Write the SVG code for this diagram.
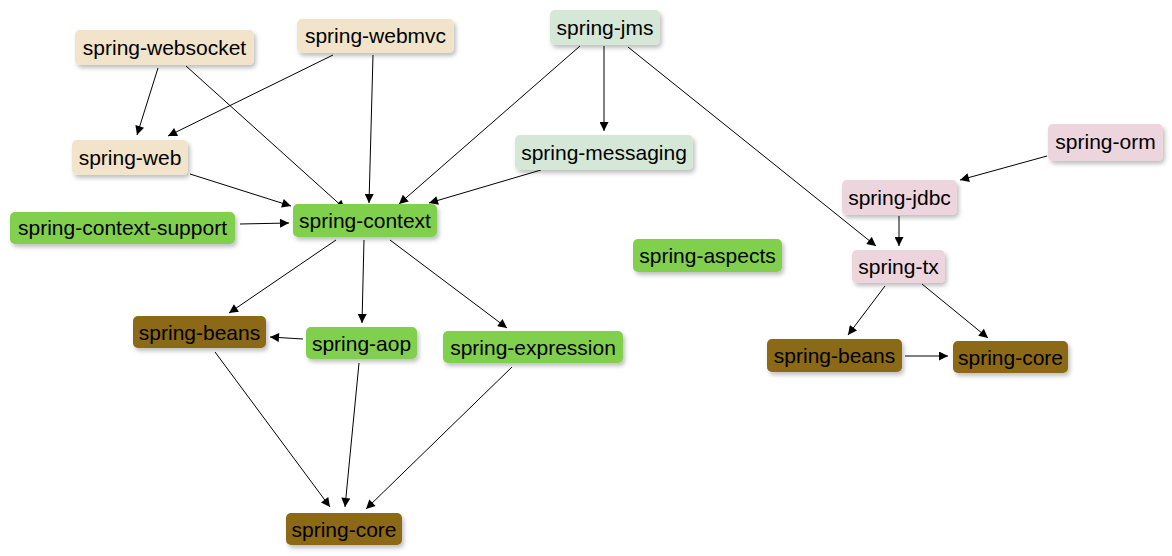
<svg xmlns="http://www.w3.org/2000/svg" width="1172" height="556" viewBox="0 0 1172 556">
<style>
text{font-family:"Liberation Sans",Arial,sans-serif;font-size:21px;fill:#000;text-anchor:middle}
.n rect{filter:url(#sh)}
.beige{fill:#F2E4CB}
.mint{fill:#D5E7D7}
.green{fill:#80D04E}
.brown{fill:#8B6914}
.pink{fill:#EDD5DE}
#edges line{stroke:#000;stroke-width:1;marker-end:url(#ah)}
</style>
<defs>
<filter id="sh" x="-20%" y="-30%" width="140%" height="170%">
<feDropShadow dx="2" dy="3" stdDeviation="2" flood-color="#000" flood-opacity="0.25"/>
</filter>
<marker id="ah" viewBox="0 0 10 10" refX="10" refY="5" markerWidth="11" markerHeight="9" markerUnits="userSpaceOnUse" orient="auto">
<path d="M0,0 L10,5 L0,10 z" fill="#000"/>
</marker>
</defs>
<rect width="1172" height="556" fill="#fff"/>
<g id="edges">
<line x1="158" y1="68" x2="137" y2="135"/>
<line x1="186" y1="66" x2="345" y2="209"/>
<line x1="333" y1="55" x2="168" y2="136"/>
<line x1="373" y1="55" x2="369" y2="203"/>
<line x1="580" y1="46" x2="399" y2="204"/>
<line x1="604" y1="46" x2="604" y2="131"/>
<line x1="628" y1="47" x2="876" y2="246"/>
<line x1="541" y1="170" x2="429" y2="203"/>
<line x1="190" y1="174" x2="291" y2="206"/>
<line x1="240" y1="224" x2="289" y2="223"/>
<line x1="336" y1="240" x2="229" y2="313"/>
<line x1="364" y1="240" x2="362" y2="323"/>
<line x1="390" y1="240" x2="507" y2="328"/>
<line x1="303" y1="339" x2="270" y2="337"/>
<line x1="215" y1="352" x2="330" y2="507"/>
<line x1="359" y1="363" x2="345" y2="507"/>
<line x1="512" y1="367" x2="366" y2="509"/>
<line x1="1047" y1="156" x2="960" y2="180"/>
<line x1="899" y1="216" x2="899" y2="246"/>
<line x1="885" y1="286" x2="848" y2="335"/>
<line x1="922" y1="284" x2="988" y2="338"/>
<line x1="905" y1="356" x2="948" y2="356"/>
</g>
<g id="spring-websocket" class="n"><rect class="beige" x="75" y="30" width="179" height="35" rx="5"/><text x="164.5" y="55">spring-websocket</text></g>
<g id="spring-webmvc" class="n"><rect class="beige" x="297" y="19" width="157" height="34" rx="5"/><text x="375.5" y="43">spring-webmvc</text></g>
<g id="spring-web" class="n"><rect class="beige" x="72" y="140" width="116" height="35" rx="5"/><text x="130" y="165">spring-web</text></g>
<g id="spring-jms" class="n"><rect class="mint" x="550" y="10" width="110" height="35" rx="5"/><text x="605" y="35">spring-jms</text></g>
<g id="spring-messaging" class="n"><rect class="mint" x="515" y="135" width="178" height="35" rx="5"/><text x="604" y="160">spring-messaging</text></g>
<g id="spring-context-support" class="n"><rect class="green" x="10" y="212" width="225" height="32" rx="5"/><text x="122.5" y="235">spring-context-support</text></g>
<g id="spring-context" class="n"><rect class="green" x="293" y="204" width="144" height="33" rx="5"/><text x="365" y="228">spring-context</text></g>
<g id="spring-aspects" class="n"><rect class="green" x="633" y="239" width="149" height="33" rx="5"/><text x="707.5" y="263">spring-aspects</text></g>
<g id="spring-beans-1" class="n"><rect class="brown" x="133" y="316" width="133" height="32" rx="5"/><text x="199.5" y="340">spring-beans</text></g>
<g id="spring-aop" class="n"><rect class="green" x="306" y="327" width="111" height="32" rx="5"/><text x="361.5" y="351">spring-aop</text></g>
<g id="spring-expression" class="n"><rect class="green" x="443" y="331" width="180" height="32" rx="5"/><text x="533" y="355">spring-expression</text></g>
<g id="spring-core-1" class="n"><rect class="brown" x="286" y="513" width="116" height="32" rx="5"/><text x="344" y="537">spring-core</text></g>
<g id="spring-orm" class="n"><rect class="pink" x="1048" y="124" width="115" height="37" rx="5"/><text x="1105.5" y="149">spring-orm</text></g>
<g id="spring-jdbc" class="n"><rect class="pink" x="842" y="180" width="115" height="35" rx="5"/><text x="899.5" y="205">spring-jdbc</text></g>
<g id="spring-tx" class="n"><rect class="pink" x="852" y="250" width="93" height="33" rx="5"/><text x="898.5" y="274">spring-tx</text></g>
<g id="spring-beans-2" class="n"><rect class="brown" x="767" y="339" width="135" height="33" rx="5"/><text x="834.5" y="363">spring-beans</text></g>
<g id="spring-core-2" class="n"><rect class="brown" x="953" y="341" width="115" height="32" rx="5"/><text x="1010.5" y="365">spring-core</text></g>
</svg>
